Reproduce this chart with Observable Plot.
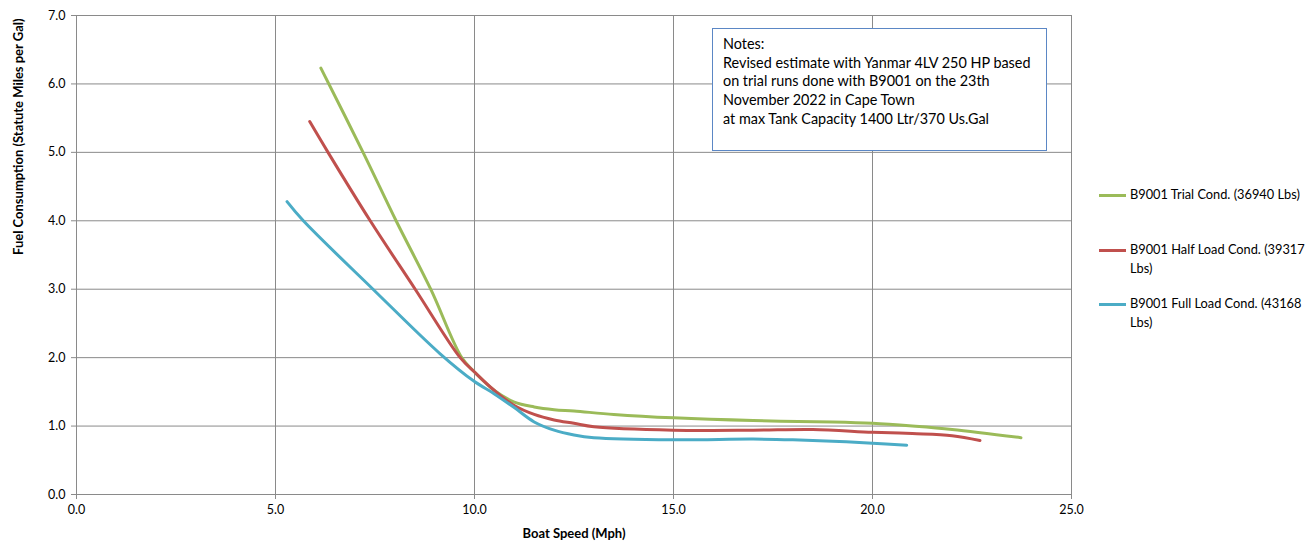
<!DOCTYPE html>
<html>
<head>
<meta charset="utf-8">
<script src="https://cdn.jsdelivr.net/npm/d3@7"></script>
<script src="https://cdn.jsdelivr.net/npm/@observablehq/plot@0.6"></script>
<style>
  html, body { margin: 0; padding: 0; background: #fff; }
  #wrap { position: relative; width: 1316px; height: 542px; font-family: Lato, "Open Sans", sans-serif; }
  #notes { position: absolute; left: 712px; top: 28px; width: 323px; height: 115px; border: 1px solid #5b87c5; background: #fff;
           padding: 6px 0 0 10px; font-size: 14.4px; line-height: 18.7px; color: #000; white-space: nowrap; }
  #legend { position: absolute; left: 1099px; top: 185px; width: 213px; font-size: 12.8px; color: #000; }
  .li { position: absolute; left: 0; width: 213px; line-height: 19px; }
  .sw { position: absolute; left: 0; top: 8.5px; width: 27px; height: 3px; }
  .lt { margin-left: 31px; }
</style>
</head>
<body>
<div id="wrap">
  <div id="chart"></div>
  <div id="notes"></div>
  <div id="legend"></div>
</div>
<script>
// ---- data ----
const seriesNames = [
  "B9001 Trial Cond. (36940 Lbs)",
  "B9001 Half Load Cond. (39317 Lbs)",
  "B9001 Full Load Cond. (43168 Lbs)"
];
const seriesColors = ["#9bbb59", "#c0504d", "#4bacc6"];

const trialSpeed = [6.14, 7.2, 8.03, 8.9, 9.68, 10.0, 10.5, 11.0, 11.5, 12.0, 12.5, 13.5, 15.0, 17.0, 19.0, 20.0, 21.0, 22.0, 23.73];
const trialMpg   = [6.23, 5.0, 4.0, 3.0, 2.0, 1.79, 1.52, 1.35, 1.28, 1.24, 1.22, 1.17, 1.12, 1.08, 1.06, 1.04, 1.0, 0.95, 0.83];

const halfSpeed = [5.86, 6.32, 7.38, 8.51, 9.64, 10.0, 10.5, 11.0, 11.5, 12.0, 12.5, 13.0, 15.0, 17.0, 18.5, 20.0, 21.0, 22.0, 22.7];
const halfMpg   = [5.45, 5.0, 4.0, 3.0, 2.0, 1.79, 1.52, 1.30, 1.17, 1.09, 1.04, 0.99, 0.94, 0.94, 0.95, 0.91, 0.89, 0.86, 0.79];

const fullSpeed = [5.29, 5.7, 7.45, 9.13, 10.0, 10.5, 11.0, 11.5, 12.0, 12.5, 13.0, 15.0, 17.0, 18.0, 19.0, 20.0, 20.86];
const fullMpg   = [4.28, 4.0, 3.0, 2.06, 1.65, 1.47, 1.27, 1.06, 0.94, 0.87, 0.83, 0.80, 0.81, 0.80, 0.78, 0.75, 0.72];

const xTicks = [0, 5, 10, 15, 20, 25];
const yTicks = [0, 1, 2, 3, 4, 5, 6, 7];

const notesLines = [
  "Notes:",
  "Revised estimate with Yanmar 4LV 250 HP based",
  "on trial runs done with B9001 on the 23th",
  "November 2022 in Cape Town",
  "at max Tank Capacity 1400 Ltr/370 Us.Gal"
];
const xLabel = "Boat Speed (Mph)";
const yLabel = "Fuel Consumption (Statute Miles per Gal)";

// ---- build table ----
const raw = [[trialSpeed, trialMpg], [halfSpeed, halfMpg], [fullSpeed, fullMpg]];
const rows = [];
raw.forEach(([xs, ys], i) => xs.forEach((x, j) => rows.push({series: seriesNames[i], speed: x, mpg: ys[j]})));

const fmt = d3.format(".1f");
const chart = Plot.plot({
  width: 1316,
  height: 542,
  marginLeft: 76,
  marginRight: 245,
  marginTop: 15,
  marginBottom: 48,
  style: {fontFamily: "Lato, 'Open Sans', sans-serif", fontSize: "12px", color: "#000", background: "#fff"},
  x: {domain: [0, 25]},
  y: {domain: [0, 7]},
  color: {domain: seriesNames, range: seriesColors},
  marks: [
    Plot.gridX(xTicks, {stroke: "#8a8a8a", strokeOpacity: 1}),
    Plot.gridY(yTicks, {stroke: "#8a8a8a", strokeOpacity: 1}),
    Plot.axisX(xTicks, {tickFormat: fmt, tickSize: 5, tickPadding: 6, stroke: "#8a8a8a", fill: "#000", fontSize: 12.5,
      label: null}),
    Plot.axisY(yTicks, {tickFormat: fmt, tickSize: 5, tickPadding: 6, stroke: "#8a8a8a", fill: "#000", fontSize: 12.5,
      label: null}),
    Plot.text([xLabel], {frameAnchor: "bottom", dy: 43, text: d => d, fontWeight: "bold", fontSize: 13}),
    Plot.text([yLabel], {frameAnchor: "left", dx: -58, rotate: -90, text: d => d, fontWeight: "bold", fontSize: 13}),
    Plot.line(rows, {x: "speed", y: "mpg", z: "series", stroke: "series", strokeWidth: 3, curve: "catmull-rom"})
  ]
});
document.getElementById("chart").appendChild(chart);

// notes box
const notes = document.getElementById("notes");
notesLines.forEach(t => { const d = document.createElement("div"); d.textContent = t; notes.appendChild(d); });

// legend
const legend = document.getElementById("legend");
const legendTops = [0, 55, 109];
seriesNames.forEach((name, i) => {
  const li = document.createElement("div");
  li.className = "li";
  li.style.top = legendTops[i] + "px";
  const sw = document.createElement("div");
  sw.className = "sw";
  sw.style.background = seriesColors[i];
  const lt = document.createElement("div");
  lt.className = "lt";
  lt.textContent = name;
  li.appendChild(sw); li.appendChild(lt);
  legend.appendChild(li);
});
</script>
</body>
</html>
